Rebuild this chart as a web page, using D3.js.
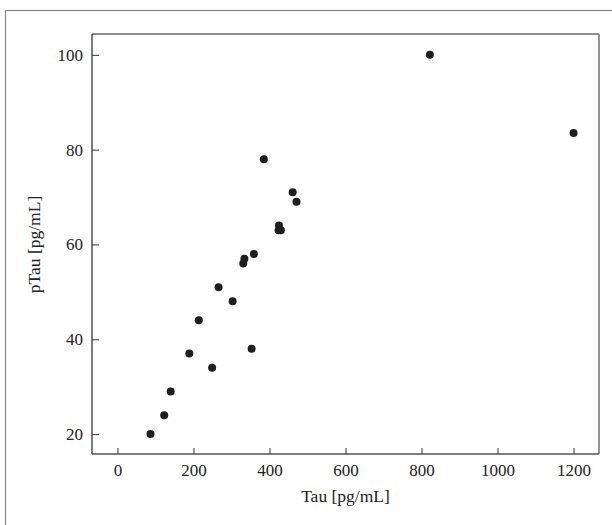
<!DOCTYPE html>
<html>
<head>
<meta charset="utf-8">
<script src="https://cdn.jsdelivr.net/npm/d3@7"></script>
<style>
  body { margin: 0; background: #fff; }
</style>
</head>
<body>
<div id="chart"></div>
<script>
// 散布図のデータ (Tau vs pTau)
const tauValues  = [87, 123, 140, 189, 214, 249, 266, 303, 331, 334, 353, 359, 385, 424, 425, 430, 461, 471, 822, 1200];
const ptauValues = [20, 24, 29, 37, 44, 34, 51, 48, 56, 57, 38, 58, 78, 63, 64, 63, 71, 69, 100, 83.5];
const xTicks = [0, 200, 400, 600, 800, 1000, 1200];
const yTicks = [20, 40, 60, 80, 100];

const FONT = '"Liberation Serif", "Times New Roman", serif';
const width = 612, height = 525;
const margin = { left: 92, top: 34, right: 13, bottom: 71 };
const plotW = width - margin.left - margin.right;
const plotH = height - margin.top - margin.bottom;

const svg = d3.select('#chart').append('svg')
    .attr('width', width)
    .attr('height', height);

// 外枠
svg.append('rect')
    .attr('x', 5.5).attr('y', 10.5)
    .attr('width', 640).attr('height', 560)
    .attr('fill', 'none')
    .attr('stroke', '#888')
    .attr('stroke-width', 1.2);

const g = svg.append('g')
    .attr('transform', `translate(${margin.left}, ${margin.top})`);

const x = d3.scaleLinear().domain([-67, 1267]).range([0, plotW]);
const y = d3.scaleLinear().domain([15.8, 104.4]).range([plotH, 0]);

// プロット枠
g.append('line').attr('x1', 0).attr('y1', 0).attr('x2', plotW).attr('y2', 0)
    .attr('stroke', '#222').attr('stroke-width', 1.2);
g.append('line').attr('x1', 0).attr('y1', 0).attr('x2', 0).attr('y2', plotH)
    .attr('stroke', '#222').attr('stroke-width', 1.2);
g.append('line').attr('x1', plotW).attr('y1', 0).attr('x2', plotW).attr('y2', plotH)
    .attr('stroke', '#888').attr('stroke-width', 1.8);
g.append('line').attr('x1', 0).attr('y1', plotH).attr('x2', plotW).attr('y2', plotH)
    .attr('stroke', '#555').attr('stroke-width', 1.4);

// X軸
const xAxis = g.append('g')
    .attr('transform', `translate(0, ${plotH})`)
    .call(d3.axisBottom(x).tickValues(xTicks).tickFormat(d3.format('d'))
        .tickSizeInner(-6).tickSizeOuter(0).tickPadding(10));
xAxis.attr('font-family', FONT).attr('font-size', 17);
xAxis.select('.domain').remove();
xAxis.selectAll('line').attr('stroke', '#333');
xAxis.selectAll('text').attr('fill', '#222');

// Y軸
const yAxis = g.append('g')
    .call(d3.axisLeft(y).tickValues(yTicks).tickFormat(d3.format('d'))
        .tickSizeInner(-7).tickSizeOuter(0).tickPadding(9));
yAxis.attr('font-family', FONT).attr('font-size', 17);
yAxis.select('.domain').remove();
yAxis.selectAll('line').attr('stroke', '#333');
yAxis.selectAll('text').attr('fill', '#222');

// 軸ラベル
svg.append('text')
    .attr('x', margin.left + x(600))
    .attr('y', 502)
    .attr('text-anchor', 'middle')
    .attr('font-family', FONT)
    .attr('font-size', 17.5)
    .attr('fill', '#222')
    .text('Tau [pg/mL]');

svg.append('text')
    .attr('transform', `translate(40, ${margin.top + y(60)}) rotate(-90)`)
    .attr('text-anchor', 'middle')
    .attr('font-family', FONT)
    .attr('font-size', 17.5)
    .attr('fill', '#222')
    .text('pTau [pg/mL]');

// データ点
g.selectAll('.dot')
    .data(tauValues.map((t, i) => ({ tau: t, ptau: ptauValues[i] })))
    .enter()
    .append('circle')
    .attr('class', 'dot')
    .attr('cx', d => x(d.tau))
    .attr('cy', d => y(d.ptau))
    .attr('r', 4)
    .attr('fill', '#1e1e1e');
</script>
</body>
</html>
